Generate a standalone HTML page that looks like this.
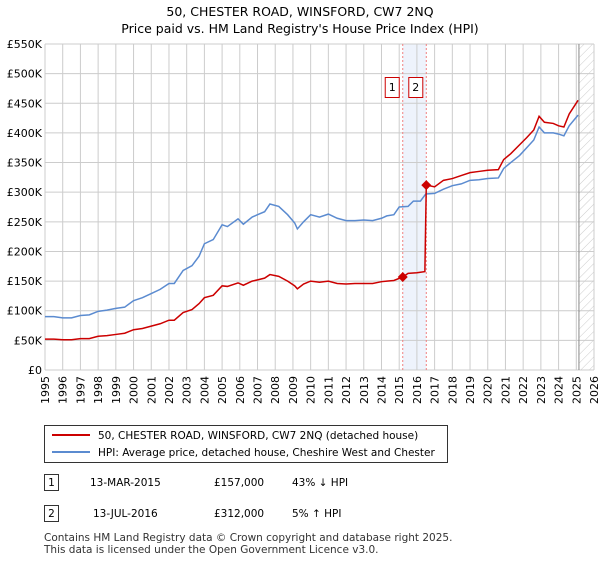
<!DOCTYPE html>
<html><head><meta charset="utf-8"><style>
body{margin:0;background:#fff;font-family:"Liberation Sans","DejaVu Sans",sans-serif;}
svg text{font-family:"DejaVu Sans","Liberation Sans",sans-serif;}
</style></head><body>
<svg width="600" height="560" viewBox="0 0 600 560">
<defs><pattern id="hatch" width="6" height="6" patternUnits="userSpaceOnUse" patternTransform="rotate(45)"><line x1="0" y1="0" x2="0" y2="6" stroke="#ccc" stroke-width="1"/></pattern></defs>
<text x="300" y="16" text-anchor="middle" font-size="12.5">50, CHESTER ROAD, WINSFORD, CW7 2NQ</text>
<text x="300" y="33" text-anchor="middle" font-size="12.5">Price paid vs. HM Land Registry's House Price Index (HPI)</text>
<g id="grid"></g>
<g id="marks"></g>
<g>
<rect x="44.5" y="425.5" width="403" height="37" fill="#fff" stroke="#333"/>
<line x1="52" y1="435" x2="90" y2="435" stroke="#cc0000" stroke-width="2"/>
<text x="98" y="439" font-size="10.5">50, CHESTER ROAD, WINSFORD, CW7 2NQ (detached house)</text>
<line x1="52" y1="452" x2="90" y2="452" stroke="#5b8bd0" stroke-width="2"/>
<text x="98" y="456" font-size="10.5">HPI: Average price, detached house, Cheshire West and Chester</text>
</g>
<g font-size="10.5">
<rect x="44.5" y="474.5" width="14" height="16" fill="#fff" stroke="#333"/><text x="51.5" y="486" text-anchor="middle">1</text>
<text x="90" y="486">13-MAR-2015</text><text x="214" y="486">£157,000</text><text x="292" y="486">43% ↓ HPI</text>
<rect x="44.5" y="505.5" width="14" height="16" fill="#fff" stroke="#333"/><text x="51.5" y="517" text-anchor="middle">2</text>
<text x="93" y="517">13-JUL-2016</text><text x="214" y="517">£312,000</text><text x="292" y="517">5% ↑ HPI</text>
</g>
<text x="44" y="541" font-size="10.5" fill="#333">Contains HM Land Registry data © Crown copyright and database right 2025.</text>
<text x="44" y="553" font-size="10.5" fill="#333">This data is licensed under the Open Government Licence v3.0.</text>
</svg>
<script>
const yTicks=[0,50,100,150,200,250,300,350,400,450,500,550];
const yearTicks=[1995,1996,1997,1998,1999,2000,2001,2002,2003,2004,2005,2006,2007,2008,2009,2010,2011,2012,2013,2014,2015,2016,2017,2018,2019,2020,2021,2022,2023,2024,2025,2026];
const hpiDates=[1995,1995.5,1996,1996.5,1997,1997.5,1998,1998.5,1999,1999.5,2000,2000.5,2001,2001.5,2002,2002.3,2002.8,2003.3,2003.7,2004,2004.5,2005,2005.3,2005.9,2006.2,2006.7,2007,2007.4,2007.7,2008.2,2008.7,2009.1,2009.25,2009.6,2010,2010.5,2011,2011.5,2012,2012.5,2013,2013.5,2014,2014.3,2014.7,2015,2015.5,2015.8,2016.2,2016.5,2017,2017.5,2018,2018.5,2019,2019.5,2020,2020.6,2020.9,2021.3,2021.8,2022.2,2022.6,2022.9,2023.2,2023.7,2024,2024.3,2024.6,2025.1];
const hpiValues=[90,90,88,88,92,93,99,101,104,106,117,122,129,136,146,146,168,176,192,213,220,245,242,255,246,258,262,267,280,276,262,248,238,250,262,258,263,256,252,252,253,252,256,260,262,275,276,285,285,297,298,305,311,314,320,321,323,324,340,350,362,375,388,410,400,400,398,395,412,430];
const ppDates=[1995,1995.5,1996,1996.5,1997,1997.5,1998,1998.5,1999,1999.5,2000,2000.5,2001,2001.5,2002,2002.3,2002.8,2003.3,2003.7,2004,2004.5,2005,2005.3,2005.9,2006.2,2006.7,2007,2007.4,2007.7,2008.2,2008.7,2009.1,2009.25,2009.6,2010,2010.5,2011,2011.5,2012,2012.5,2013,2013.5,2014,2014.3,2014.7,2015.2,2015.5,2016,2016.45,2016.53,2017,2017.5,2018,2018.5,2019,2019.5,2020,2020.6,2020.9,2021.3,2021.8,2022.2,2022.6,2022.9,2023.2,2023.7,2024,2024.3,2024.6,2025.1];
const ppValues=[52,52,51,51,53,53,57,58,60,62,68,70,74,78,84,84,97,102,112,122,126,142,141,147,143,150,152,155,161,158,150,142,137,145,150,148,150,146,145,146,146,146,149,150,151,157,163,164,166,312,309,320,323,328,333,335,337,338,355,365,380,392,405,428,418,416,412,410,432,455];
const sales=[{d:2015.2,v:157,l:"1"},{d:2016.53,v:312,l:"2"}];
const X0=45,X1=594,Y0=370,Y1=44,D0=1995,D1=2026,VMAX=550;
const x=d=>X0+(d-D0)/(D1-D0)*(X1-X0);
const y=v=>Y0-v/VMAX*(Y0-Y1);
const NS="http://www.w3.org/2000/svg";
function mk(tag,attrs,parent){const e=document.createElementNS(NS,tag);for(const k in attrs)e.setAttribute(k,attrs[k]);parent.appendChild(e);return e;}
const grid=document.getElementById('grid'),marks=document.getElementById('marks');
// shading
const sh=mk('rect',{x:x(sales[0].d),y:Y1,width:x(sales[1].d)-x(sales[0].d),height:Y0-Y1,fill:'#eef3fc'},grid);


yearTicks.forEach(t=>{const l=mk('line',{x1:x(t),x2:x(t),y1:Y1,y2:Y0,stroke:'#ccc'},grid);


const tx=mk('text',{x:0,y:0,'font-size':11,'text-anchor':'end',transform:`translate(${x(t)+4},${Y0+6}) rotate(-90)`},grid);tx.textContent=t;

});
yTicks.forEach(t=>{const l=mk('line',{x1:X0,x2:X1,y1:y(t),y2:y(t),stroke:'#ccc'},grid);


const tx=mk('text',{x:X0-3,y:y(t)+4,'font-size':11,'text-anchor':'end'},grid);tx.textContent=t===0?'£0':'£'+t+'K';

});
const endD=2025.15;
const ht=mk('rect',{x:x(endD),y:Y1,width:X1-x(endD),height:Y0-Y1,fill:'url(#hatch)'},grid);


mk('line',{x1:x(endD),x2:x(endD),y1:Y1,y2:Y0,stroke:'#888'},grid);
sales.forEach(s=>{const l=mk('line',{x1:x(s.d),x2:x(s.d),y1:Y1,y2:Y0,stroke:'#f08080','stroke-dasharray':'2,2'},grid);


const b=mk('rect',{x:x(s.d)-17.5,y:77.5,width:14,height:20,fill:'#fff',stroke:'#cc0000'},grid);


const t=mk('text',{x:x(s.d)-10.5,y:91,'font-size':11,'text-anchor':'middle'},grid);t.textContent=s.l;});
const hp=mk('polyline',{points:hpiDates.map((d,i)=>x(d)+','+y(hpiValues[i])).join(' '),fill:'none',stroke:'#5b8bd0','stroke-width':1.5},marks);


const pp=mk('polyline',{points:ppDates.map((d,i)=>x(d)+','+y(ppValues[i])).join(' '),fill:'none',stroke:'#cc0000','stroke-width':1.5},marks);


sales.forEach(s=>{const p=mk('path',{d:`M${x(s.d)-5},${y(s.v)} L${x(s.d)},${y(s.v)-5} L${x(s.d)+5},${y(s.v)} L${x(s.d)},${y(s.v)+5}Z`,fill:'#cc0000'},marks);

});
</script>
</body></html>
